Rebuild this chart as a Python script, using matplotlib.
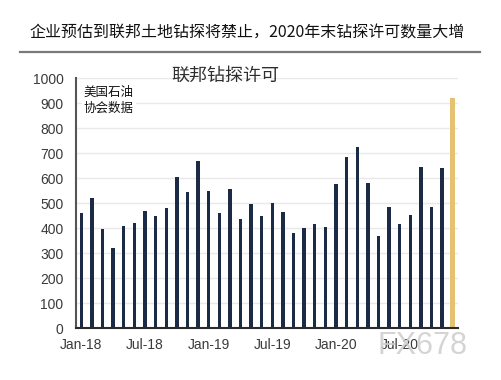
import matplotlib
matplotlib.use("Agg")
import matplotlib.pyplot as plt
import numpy as np

plt.rcParams["font.family"] = ["Liberation Sans", "Noto Sans CJK SC", "DejaVu Sans"]

# monthly federal drilling permits, Jan-18 .. Dec-20
months = [f"{m}-{y}" for y in ("18", "19", "20")
          for m in ("Jan", "Feb", "Mar", "Apr", "May", "Jun",
                    "Jul", "Aug", "Sep", "Oct", "Nov", "Dec")]
permits = [462, 521, 399, 321, 411, 421, 469, 448, 481, 604, 544, 668,
           548, 461, 559, 437, 496, 448, 503, 464, 381, 401, 419, 405,
           577, 687, 725, 583, 369, 484, 419, 455, 644, 487, 641, 922]
tick_labels = ["Jan-18", "Jul-18", "Jan-19", "Jul-19", "Jan-20", "Jul-20"]
yticks = list(range(0, 1001, 100))

NAVY = "#1c2b45"
GOLD = "#e3c272"

fig = plt.figure(figsize=(5.01, 3.8), dpi=100)
fig.patch.set_facecolor("white")

fig.text(0.493, 0.912, "企业预估到联邦土地钻探将禁止，2020年末钻探许可数量大增",
         ha="center", va="center", fontsize=11.5, color="#111111",
         family=["Noto Sans CJK SC", "DejaVu Sans"])
fig.add_artist(plt.Line2D([0.04, 0.958], [0.863, 0.863], color="#7a7a7a",
                          lw=1.6, transform=fig.transFigure))

ax = fig.add_axes([0.1517, 0.136, 0.7625, 0.658])
x = np.arange(len(months))
colors = [NAVY] * (len(months) - 1) + [GOLD]
widths = [0.32] * (len(months) - 1) + [0.42]
ax.bar(x, permits, width=widths, color=colors, zorder=3)

ax.set_xlim(-0.5, len(months) - 0.5)
ax.set_ylim(0, 1000)
ax.set_yticks(yticks)
ax.set_xticks([months.index(t) for t in tick_labels])
ax.set_xticklabels(tick_labels)
ax.tick_params(axis="both", length=0, labelsize=10, colors="#3a3a3a")
ax.tick_params(axis="y", pad=9)
ax.tick_params(axis="x", pad=7)
ax.grid(axis="y", color="#e9e9e9", lw=1, zorder=0)
ax.set_axisbelow(True)
for s in ("top", "right"):
    ax.spines[s].set_visible(False)
ax.spines["left"].set_color("#555555")
ax.spines["left"].set_linewidth(1.5)
ax.spines["bottom"].set_color("#2a2a2a")
ax.spines["bottom"].set_linewidth(1.5)
ax.spines["bottom"].set_zorder(4)

ax.text(0.39, 1.01, "联邦钻探许可", transform=ax.transAxes, ha="center",
        va="center", fontsize=13, color="#2e2e2e",
        family=["Noto Sans CJK SC", "DejaVu Sans"])
ax.text(0.02, 0.97, "美国石油\n协会数据", transform=ax.transAxes, ha="left",
        va="top", fontsize=9, color="#111111", linespacing=1.3,
        family=["Noto Sans CJK SC", "DejaVu Sans"], zorder=5,
        bbox=dict(facecolor="white", edgecolor="none", pad=1.5))

# watermark
fig.text(0.843, 0.09, "FX678", ha="center", va="center", fontsize=22,
         color="#cdcdcd", alpha=0.85, zorder=10)

fig.savefig("out.png", dpi=100, facecolor="white")
